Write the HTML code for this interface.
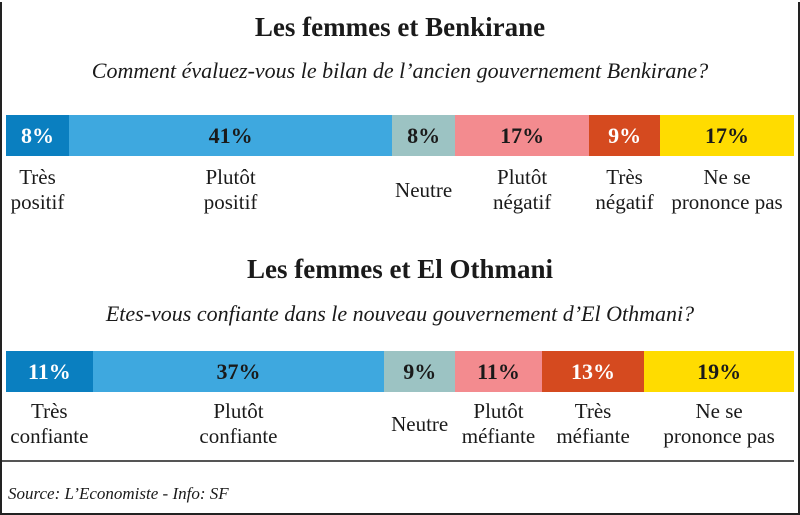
<!DOCTYPE html>
<html><head><meta charset="utf-8"><style>
body{margin:0;background:#fff;}
#wrap{position:relative;width:796px;height:511px;border:2px solid #222;border-top:none;background:#fff;font-family:"Liberation Serif",serif;color:#1a1a1a;overflow:hidden;margin-top:2px}
.title{position:absolute;left:0;width:796px;text-align:center;font-weight:bold;font-size:27px}
.sub{position:absolute;left:0;width:796px;text-align:center;font-style:italic;font-size:22px}
.seg{position:absolute;display:flex;align-items:center;justify-content:center;font-weight:bold;font-size:22px}
.lab{position:absolute;text-align:center;font-size:21px;line-height:25px;display:flex;align-items:center;justify-content:center;height:52px}
</style></head><body>
<div id="wrap">
<div class="title" style="top:10px">Les femmes et Benkirane</div>
<div class="sub" style="top:56px">Comment évaluez-vous le bilan de l’ancien gouvernement Benkirane?</div>
<div id="bar1"></div>
<div class="title" style="top:252px">Les femmes et El Othmani</div>
<div class="sub" style="top:299px">Etes-vous confiante dans le nouveau gouvernement d’El Othmani?</div>
<div id="bar2"></div>
<div style="position:absolute;left:0;top:458px;width:792px;height:2px;background:#555"></div>
<div style="position:absolute;left:6px;top:482px;font-style:italic;font-size:17px">Source: L’Economiste - Info: SF</div>
</div>
<script>
const colors=["#0a7fc0","#3ea8df","#9cc3c3","#f38b8f","#d54a1f","#ffdc00"];
const textColors=["#fff","#1a1a1a","#1a1a1a","#1a1a1a","#fff","#1a1a1a"];
const values1=[8,41,8,17,9,17];
const labels1=[["Très","positif"],["Plutôt","positif"],["Neutre"],["Plutôt","négatif"],["Très","négatif"],["Ne se","prononce pas"]];
const values2=[11,37,9,11,13,19];
const labels2=[["Très","confiante"],["Plutôt","confiante"],["Neutre"],["Plutôt","méfiante"],["Très","méfiante"],["Ne se","prononce pas"]];
function draw(id,values,labels,top,labTop){
  const host=document.getElementById(id);
  const x0=4,W=788,total=values.reduce((a,b)=>a+b,0);
  let x=x0;
  values.forEach((v,i)=>{
    const w=v/total*W;
    const s=document.createElement('div');
    s.className='seg';
    
    
    s.style.cssText=`left:${x}px;top:${top}px;width:${w}px;height:41px;background:${colors[i]};color:${textColors[i]}`;
    s.textContent=v+'%';
    host.appendChild(s);
    const l=document.createElement('div');
    l.className='lab';
    
    
    l.style.cssText=`left:${x-20}px;top:${labTop}px;width:${w+40}px`;
    l.innerHTML=labels[i].join('<br>');
    host.appendChild(l);
    x+=w;
  });
}
draw('bar1',values1,labels1,113,162);
draw('bar2',values2,labels2,349,396);
</script>
</body></html>
